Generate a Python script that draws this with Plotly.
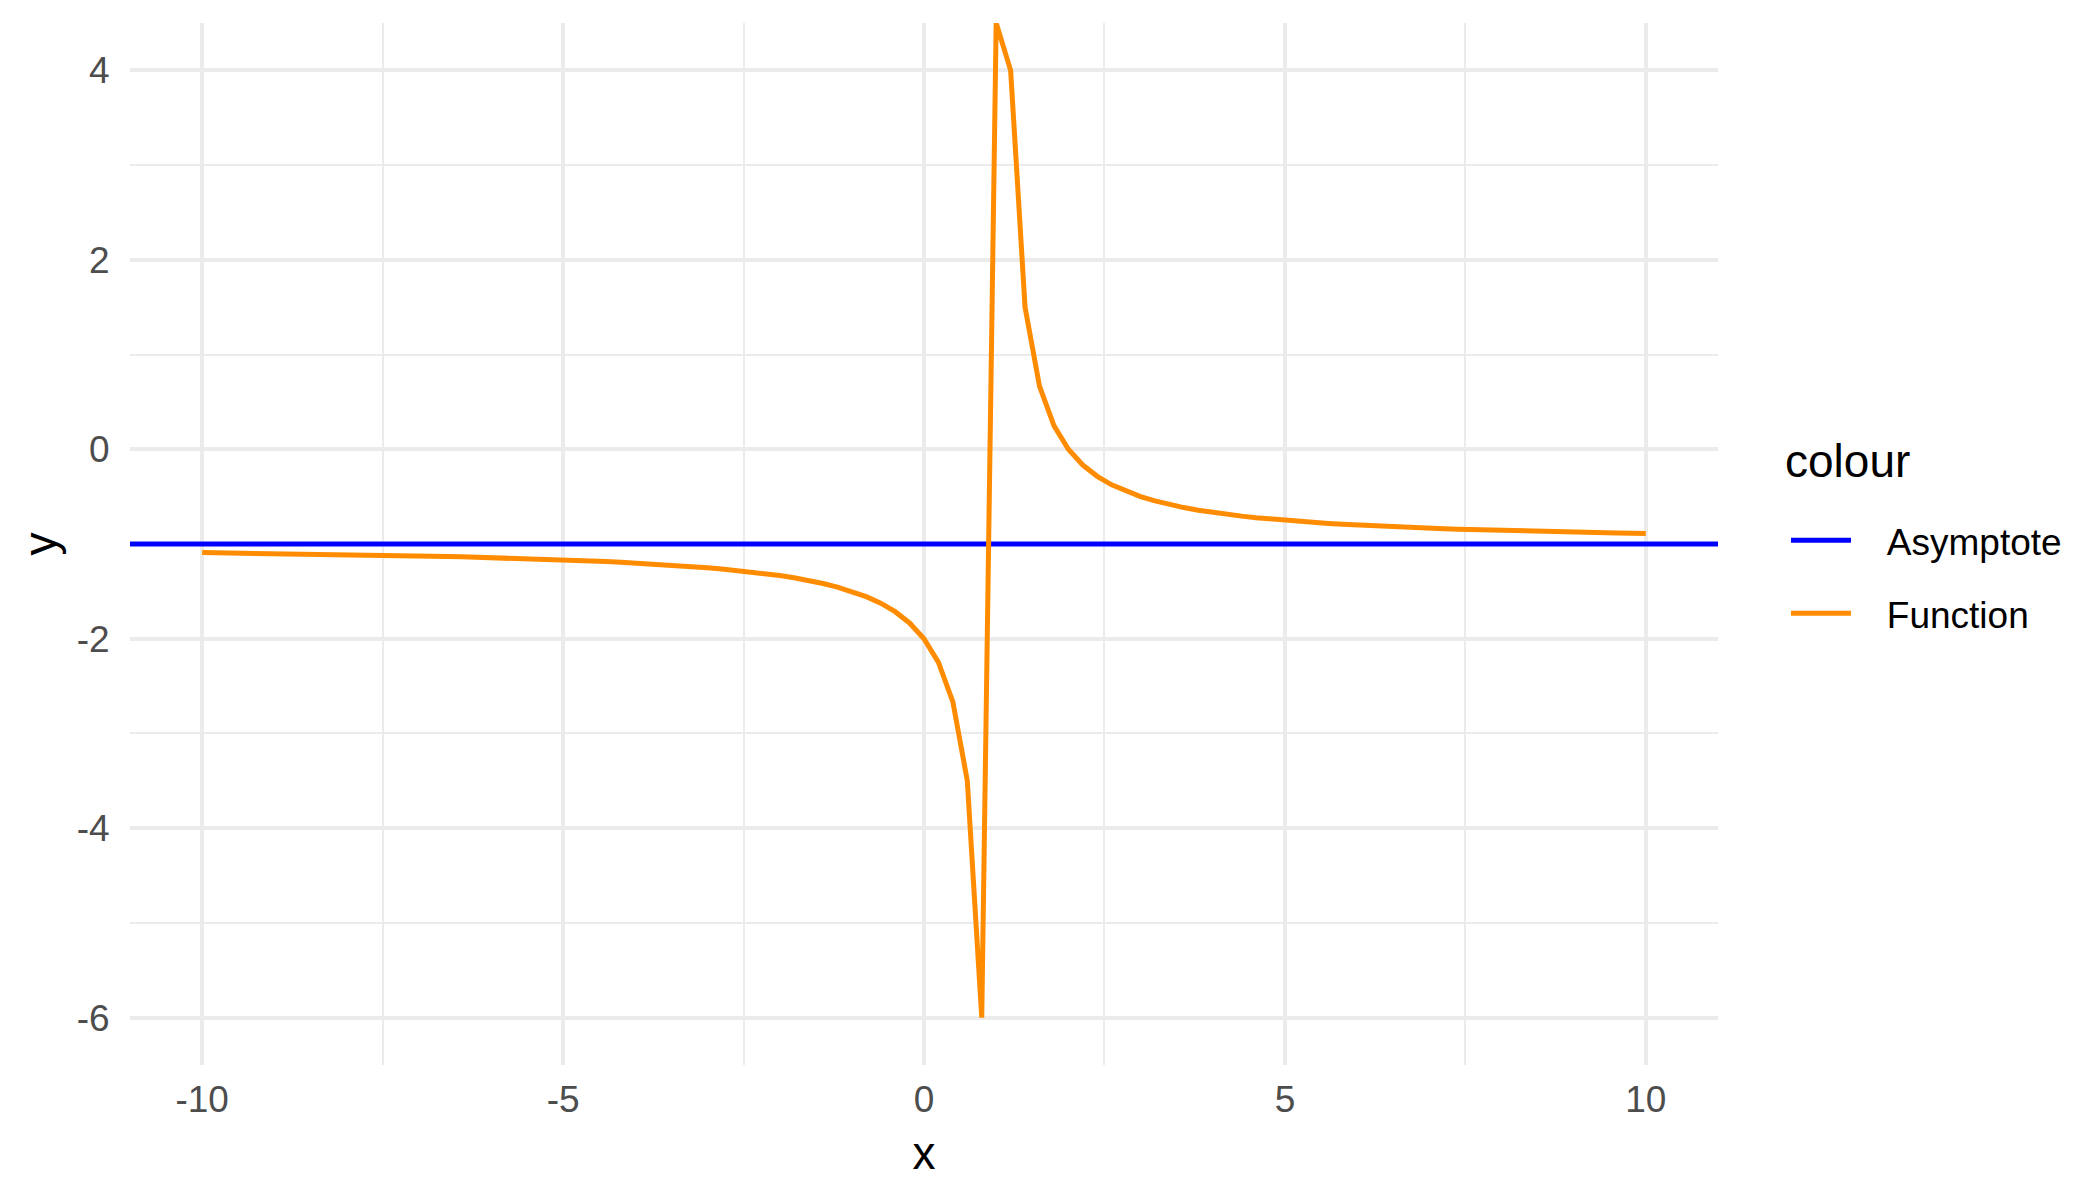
import plotly.graph_objects as go

# sampled points of the curve, x from -10 to 10 in steps of 0.2
x_vals = [
    -10.0, -9.8, -9.6, -9.4, -9.2, -9.0, -8.8, -8.6, -8.4, -8.2,
    -8.0, -7.8, -7.6, -7.4, -7.2, -7.0, -6.8, -6.6, -6.4, -6.2,
    -6.0, -5.8, -5.6, -5.4, -5.2, -5.0, -4.8, -4.6, -4.4, -4.2,
    -4.0, -3.8, -3.6, -3.4, -3.2, -3.0, -2.8, -2.6, -2.4, -2.2,
    -2.0, -1.8, -1.6, -1.4, -1.2, -1.0, -0.8, -0.6, -0.4, -0.2,
    0.0, 0.2, 0.4, 0.6, 0.8, 1.0, 1.2, 1.4, 1.6, 1.8,
    2.0, 2.2, 2.4, 2.6, 2.8, 3.0, 3.2, 3.4, 3.6, 3.8,
    4.0, 4.2, 4.4, 4.6, 4.8, 5.0, 5.2, 5.4, 5.6, 5.8,
    6.0, 6.2, 6.4, 6.6, 6.8, 7.0, 7.2, 7.4, 7.6, 7.8,
    8.0, 8.2, 8.4, 8.6, 8.8, 9.0, 9.2, 9.4, 9.6, 9.8,
    10.0,
]
y_vals = [
    -1.0909, -1.0926, -1.0943, -1.0962, -1.0980, -1.1000, -1.1020, -1.1042, -1.1064, -1.1087,
    -1.1111, -1.1136, -1.1163, -1.1190, -1.1220, -1.1250, -1.1282, -1.1316, -1.1351, -1.1389,
    -1.1429, -1.1471, -1.1515, -1.1563, -1.1613, -1.1667, -1.1724, -1.1786, -1.1852, -1.1923,
    -1.2000, -1.2083, -1.2174, -1.2273, -1.2381, -1.2500, -1.2632, -1.2778, -1.2941, -1.3125,
    -1.3333, -1.3571, -1.3846, -1.4167, -1.4545, -1.5000, -1.5556, -1.6250, -1.7143, -1.8333,
    -2.0000, -2.2500, -2.6667, -3.5000, -6.0000, 4.5000, 4.0000, 1.5000, 0.6667, 0.2500,
    0.0000, -0.1667, -0.2857, -0.3750, -0.4444, -0.5000, -0.5455, -0.5833, -0.6154, -0.6429,
    -0.6667, -0.6875, -0.7059, -0.7222, -0.7368, -0.7500, -0.7619, -0.7727, -0.7826, -0.7917,
    -0.8000, -0.8077, -0.8148, -0.8214, -0.8276, -0.8333, -0.8387, -0.8438, -0.8485, -0.8529,
    -0.8571, -0.8611, -0.8649, -0.8684, -0.8718, -0.8750, -0.8780, -0.8810, -0.8837, -0.8864,
    -0.8889,
]
asymptote_y = -1

x_range = [-11, 11]
y_range = [-6.5, 4.5]
x_ticks = [-10, -5, 0, 5, 10]
x_labels = ["-10", "-5", "0", "5", "10"]
y_ticks = [-6, -4, -2, 0, 2, 4]
y_labels = ["-6", "-4", "-2", "0", "2", "4"]

FONT = "Liberation Sans, Arial, sans-serif"
GRID = "#ebebeb"
NB = "\u00a0\u00a0\u00a0"  # a bit of room between legend key and label

fig = go.Figure()
fig.add_trace(go.Scatter(x=x_range, y=[asymptote_y, asymptote_y], mode="lines", name=NB + "Asymptote",
                         line=dict(color="#0000ff", width=5), legendgroup="a"))
fig.add_trace(go.Scatter(x=x_vals, y=y_vals, mode="lines", name=NB + "Function",
                         line=dict(color="#ff8c00", width=5), legendgroup="b"))

# page body has an 8px margin, so the figure is 8px smaller than the window
fig.update_layout(
    width=2092, height=1192,
    plot_bgcolor="white", paper_bgcolor="white",
    margin=dict(l=122, r=382, t=15, b=135),
    font=dict(family=FONT, size=37, color="#4d4d4d"),
    legend=dict(font=dict(size=37, color="black"), x=1.0428, xanchor="left",
                y=0.533, yanchor="top", tracegroupgap=22, itemwidth=60),
    showlegend=True,
)
# legend title like ggplot's guide title
fig.add_annotation(text="colour", xref="paper", yref="paper", x=1.0409, y=0.5797,
                   xanchor="left", yanchor="middle", showarrow=False,
                   font=dict(family=FONT, size=46, color="black"))

fig.update_xaxes(range=x_range, tickvals=x_ticks, ticktext=x_labels, showline=False, zeroline=False,
                 showgrid=True, gridcolor=GRID, gridwidth=4,
                 minor=dict(dtick=2.5, tick0=0, showgrid=True, gridcolor=GRID, gridwidth=2),
                 ticks="outside", ticklen=2, tickcolor="rgba(0,0,0,0)",
                 title=dict(text="x", font=dict(size=46, color="black"), standoff=17))
fig.update_yaxes(range=y_range, tickvals=y_ticks, ticktext=y_labels, showline=False, zeroline=False,
                 showgrid=True, gridcolor=GRID, gridwidth=4,
                 minor=dict(dtick=1, tick0=0, showgrid=True, gridcolor=GRID, gridwidth=2),
                 ticks="outside", ticklen=12, tickcolor="rgba(0,0,0,0)",
                 title=dict(text="y", font=dict(size=46, color="black"), standoff=5))

fig.write_html("out.html")
